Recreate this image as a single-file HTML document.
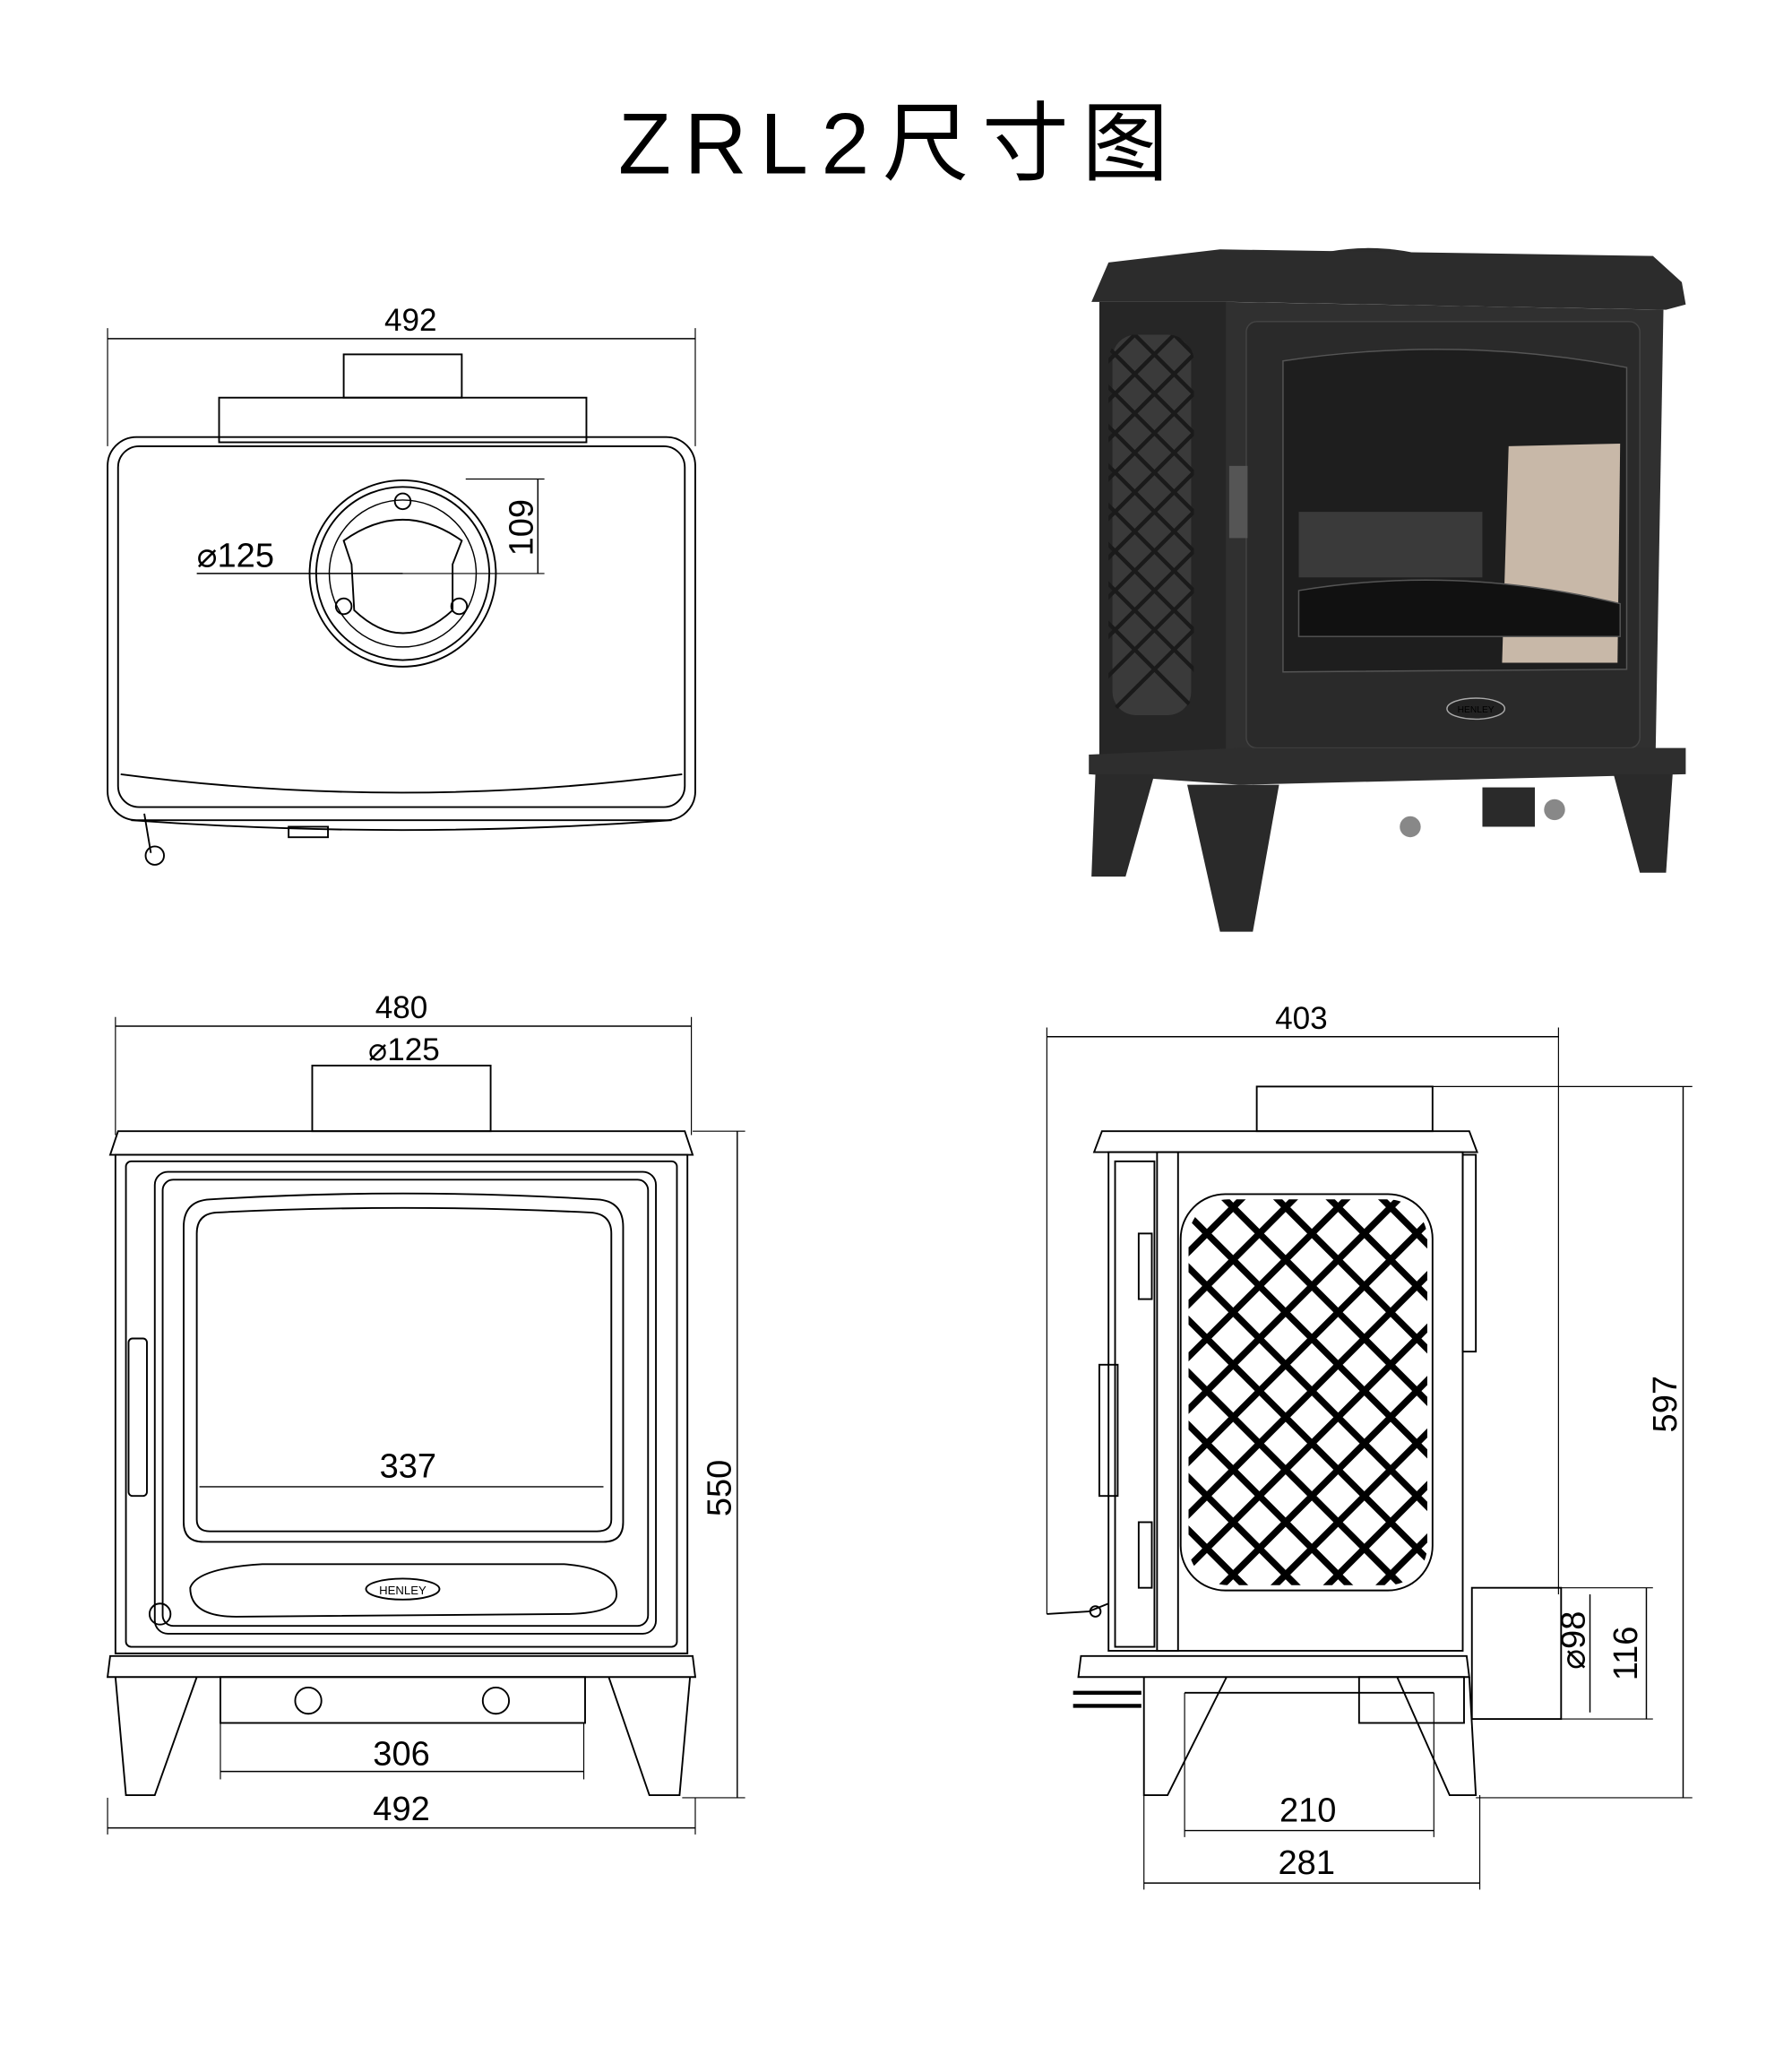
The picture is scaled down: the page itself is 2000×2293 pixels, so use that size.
<!DOCTYPE html>
<html><head><meta charset="utf-8"><style>
html,body{margin:0;padding:0;background:#fff;}
svg{display:block}
text{font-family:"Liberation Sans","Noto Sans CJK SC",sans-serif;fill:#000}
</style></head><body>
<svg width="2000" height="2293" viewBox="0 0 1366 1566" xmlns="http://www.w3.org/2000/svg">
<defs>
<marker id="a" viewBox="0 0 10 10" refX="10" refY="5" markerWidth="8" markerHeight="8" orient="auto-start-reverse"><path d="M0,2 L10,5 L0,8z" fill="#000"/></marker>
<clipPath id="lat"><rect x="906" y="914" width="182" height="294" rx="30"/></clipPath>
<clipPath id="lat2"><rect x="845" y="255" width="65" height="290" rx="20"/></clipPath>
<linearGradient id="g1" x1="0" x2="1"><stop offset="0" stop-color="#2a2a2a"/><stop offset="1" stop-color="#3c3c3c"/></linearGradient>
</defs>
<g fill="none" stroke="#000" stroke-width="1.3">
<!-- title -->
<text x="686" y="132" font-size="66" text-anchor="middle" stroke="none" letter-spacing="10">ZRL2尺寸图</text>

<!-- TOP VIEW -->
<line x1="82" y1="258" x2="530" y2="258" stroke-width="1"/>
<line x1="82" y1="250" x2="82" y2="340" stroke-width="0.8"/><line x1="530" y1="250" x2="530" y2="340" stroke-width="0.8"/>
<text x="313" y="252" font-size="24" text-anchor="middle" stroke="none">492</text>
<rect x="262" y="270" width="90" height="33"/>
<rect x="167" y="303" width="280" height="34"/>
<rect x="82" y="333" width="448" height="292" rx="22"/>
<rect x="90" y="340" width="432" height="275" rx="16"/>
<path d="M92 590 Q306 618 520 590"/>
<path d="M100 625 Q306 640 512 625"/>
<rect x="220" y="630" width="30" height="8"/>
<path d="M110 620 L115 650"/><circle cx="118" cy="652" r="7"/>
<circle cx="307" cy="437" r="71"/><circle cx="307" cy="437" r="66"/>
<circle cx="307" cy="437" r="56" stroke-width="1"/>
<path d="M262 412 Q307 380 352 412 L345 430 L345 465 Q307 500 270 465 L268 430z"/>
<circle cx="307" cy="382" r="6"/><circle cx="262" cy="462" r="6"/><circle cx="350" cy="462" r="6"/>
<line x1="150" y1="437" x2="307" y2="437" stroke-width="1"/>
<text x="150" y="432" font-size="26" stroke="none">⌀125</text>
<line x1="355" y1="365" x2="415" y2="365" stroke-width="0.8"/><line x1="307" y1="437" x2="415" y2="437" stroke-width="0.8"/>
<line x1="410" y1="365" x2="410" y2="437" stroke-width="1"/>
<text x="0" y="0" font-size="26" stroke="none" transform="translate(406 402) rotate(-90)" text-anchor="middle">109</text>

<!-- FRONT VIEW -->
<line x1="88" y1="782" x2="527" y2="782" stroke-width="1"/>
<line x1="88" y1="775" x2="88" y2="865" stroke-width="0.8"/><line x1="527" y1="775" x2="527" y2="865" stroke-width="0.8"/>
<text x="306" y="776" font-size="24" text-anchor="middle" stroke="none">480</text>
<line x1="240" y1="812" x2="372" y2="812" stroke-width="1"/>
<text x="308" y="808" font-size="24" text-anchor="middle" stroke="none">⌀125</text>
<rect x="238" y="812" width="136" height="50"/>
<path d="M84 880 L90 862 L522 862 L528 880z"/>
<rect x="88" y="880" width="436" height="380"/>
<rect x="96" y="885" width="420" height="370" rx="4"/>
<rect x="118" y="893" width="382" height="352" rx="10"/>
<rect x="124" y="899" width="370" height="340" rx="8"/>
<path d="M140 935 Q140 915 160 914 Q307 905 455 914 Q475 915 475 935 L475 1160 Q475 1175 460 1175 L155 1175 Q140 1175 140 1160z"/>
<path d="M150 940 Q150 925 165 924 Q307 917 450 924 Q466 925 466 940 L466 1158 Q466 1167 455 1167 L160 1167 Q150 1167 150 1158z"/>
<line x1="152" y1="1133" x2="460" y2="1133" stroke-width="1"/>
<text x="311" y="1126" font-size="26" text-anchor="middle" stroke="none">337</text>
<path d="M145 1210 Q150 1195 200 1192 L430 1192 Q470 1195 470 1215 Q470 1230 430 1230 L180 1232 Q145 1232 145 1210z"/>
<ellipse cx="307" cy="1211" rx="28" ry="8"/>
<text x="307" y="1215" font-size="9" text-anchor="middle" stroke="none" font-family="Liberation Serif">HENLEY</text>
<rect x="98" y="1020" width="14" height="120" rx="3"/>
<circle cx="122" cy="1230" r="8"/>
<path d="M82 1278 L84 1262 L528 1262 L530 1278z"/>
<path d="M88 1278 L96 1368 L118 1368 L150 1278"/>
<path d="M464 1278 L495 1368 L518 1368 L526 1278"/>
<rect x="168" y="1278" width="278" height="35"/>
<circle cx="235" cy="1296" r="10"/><circle cx="378" cy="1296" r="10"/>
<line x1="168" y1="1350" x2="445" y2="1350" stroke-width="1"/>
<line x1="168" y1="1313" x2="168" y2="1356" stroke-width="0.8"/><line x1="445" y1="1313" x2="445" y2="1356" stroke-width="0.8"/>
<text x="306" y="1345" font-size="26" text-anchor="middle" stroke="none">306</text>
<line x1="82" y1="1393" x2="530" y2="1393" stroke-width="1"/>
<line x1="82" y1="1370" x2="82" y2="1398" stroke-width="0.8"/><line x1="530" y1="1370" x2="530" y2="1398" stroke-width="0.8"/>
<text x="306" y="1387" font-size="26" text-anchor="middle" stroke="none">492</text>
<line x1="562" y1="862" x2="562" y2="1370" stroke-width="1"/>
<line x1="528" y1="862" x2="568" y2="862" stroke-width="0.8"/><line x1="520" y1="1370" x2="568" y2="1370" stroke-width="0.8"/>
<text font-size="26" stroke="none" transform="translate(557 1134) rotate(-90)" text-anchor="middle">550</text>

<!-- SIDE VIEW -->
<line x1="798" y1="790" x2="1188" y2="790" stroke-width="1"/>
<line x1="798" y1="783" x2="798" y2="1230" stroke-width="0.8"/><line x1="1188" y1="783" x2="1188" y2="1215" stroke-width="0.8"/>
<text x="992" y="784" font-size="24" text-anchor="middle" stroke="none">403</text>
<rect x="958" y="828" width="134" height="34"/>
<line x1="1092" y1="828" x2="1290" y2="828" stroke-width="0.8"/>
<path d="M834 878 L840 862 L1120 862 L1126 878z"/>
<rect x="845" y="878" width="270" height="380"/>
<rect x="882" y="878" width="16" height="380"/>
<rect x="850" y="885" width="30" height="370"/>
<rect x="1115" y="880" width="10" height="150"/>
<rect x="838" y="1040" width="14" height="100"/>
<rect x="868" y="940" width="10" height="50"/><rect x="868" y="1160" width="10" height="50"/>
<rect x="900" y="910" width="192" height="302" rx="34"/>
<g clip-path="url(#lat)" stroke-width="5">
<path d="M860 880 L1140 1160 M860 920 L1140 1200 M860 960 L1140 1240 M860 1000 L1140 1280 M860 1040 L1140 1320 M860 1080 L1140 1360 M860 1120 L1140 1400 M860 1160 L1140 1440 M860 840 L1140 1120 M860 800 L1140 1080 M860 760 L1140 1040 M860 720 L1140 1000 M860 680 L1140 960"/>
<path d="M1140 880 L860 1160 M1140 920 L860 1200 M1140 960 L860 1240 M1140 1000 L860 1280 M1140 1040 L860 1320 M1140 1080 L860 1360 M1140 1120 L860 1400 M1140 1160 L860 1440 M1140 840 L860 1120 M1140 800 L860 1080 M1140 760 L860 1040 M1140 720 L860 1000 M1140 680 L860 960"/>
</g>
<path d="M798 1230 L830 1228 L845 1222"/><circle cx="835" cy="1228" r="4"/>
<path d="M822 1278 L824 1262 L1118 1262 L1120 1278z"/>
<path d="M872 1278 L872 1368 L890 1368 L935 1278"/>
<path d="M1065 1278 L1105 1368 L1125 1368 L1120 1278"/>
<line x1="903" y1="1290" x2="1093" y2="1290"/>
<rect x="1036" y="1278" width="80" height="35"/>
<path d="M818 1290 L870 1290 M818 1300 L870 1300" stroke-width="3"/>
<rect x="1122" y="1210" width="68" height="100"/>
<line x1="1190" y1="1210" x2="1260" y2="1210" stroke-width="0.8"/><line x1="1190" y1="1310" x2="1260" y2="1310" stroke-width="0.8"/>
<line x1="1212" y1="1215" x2="1212" y2="1305" stroke-width="1"/>
<line x1="1255" y1="1210" x2="1255" y2="1310" stroke-width="1"/>
<text font-size="26" stroke="none" transform="translate(1208 1250) rotate(-90)" text-anchor="middle">⌀98</text>
<text font-size="26" stroke="none" transform="translate(1248 1260) rotate(-90)" text-anchor="middle">116</text>
<line x1="1283" y1="828" x2="1283" y2="1370" stroke-width="1"/>
<line x1="1125" y1="1370" x2="1290" y2="1370" stroke-width="0.8"/>
<text font-size="26" stroke="none" transform="translate(1278 1070) rotate(-90)" text-anchor="middle">597</text>
<line x1="903" y1="1395" x2="1093" y2="1395" stroke-width="1"/>
<line x1="903" y1="1290" x2="903" y2="1400" stroke-width="0.8"/><line x1="1093" y1="1290" x2="1093" y2="1400" stroke-width="0.8"/>
<text x="997" y="1388" font-size="26" text-anchor="middle" stroke="none">210</text>
<line x1="872" y1="1435" x2="1128" y2="1435" stroke-width="1"/>
<line x1="872" y1="1368" x2="872" y2="1440" stroke-width="0.8"/><line x1="1128" y1="1368" x2="1128" y2="1440" stroke-width="0.8"/>
<text x="996" y="1428" font-size="26" text-anchor="middle" stroke="none">281</text>
</g>

<!-- PHOTO -->
<g>
<path d="M988 198 Q1043 180 1098 198 L1098 205 L988 205z" fill="#2b2b2b"/>
<path d="M845 200 L930 190 L1260 195 L1282 215 L1285 232 L1270 236 L940 230 L832 230z" fill="#2c2c2c"/>
<path d="M838 230 L935 230 L935 580 L838 575z" fill="#262626"/>
<path d="M935 230 L1268 236 L1262 575 L935 582z" fill="#303030"/>
<rect x="848" y="255" width="60" height="290" rx="18" fill="#3a3a3a"/>
<g clip-path="url(#lat2)" stroke="#1a1a1a" stroke-width="3">
<path d="M820 240 L940 360 M820 270 L940 390 M820 300 L940 420 M820 330 L940 450 M820 360 L940 480 M820 390 L940 510 M820 420 L940 540 M820 450 L940 570 M820 210 L940 330 M820 180 L940 300"/>
<path d="M940 240 L820 360 M940 270 L820 390 M940 300 L820 420 M940 330 L820 450 M940 360 L820 480 M940 390 L820 510 M940 420 L820 540 M940 450 L820 570 M940 210 L820 330 M940 180 L820 300"/>
</g>
<rect x="950" y="245" width="300" height="325" rx="8" fill="#2a2a2a" stroke="#444"/>
<path d="M978 275 Q1110 255 1240 280 L1240 510 L978 512z" fill="#1e1e1e" stroke="#555"/>
<path d="M1150 340 L1235 338 L1233 505 L1145 505z" fill="#c8b8a8"/>
<path d="M990 390 L1130 390 L1130 440 L990 440z" fill="#3a3a3a"/>
<path d="M990 450 Q1110 430 1235 460 L1235 485 L990 485z" fill="#111" stroke="#555"/>
<ellipse cx="1125" cy="540" rx="22" ry="8" fill="#222" stroke="#aaa"/>
<text x="1125" y="543" font-size="7" fill="#ddd" text-anchor="middle" font-family="Liberation Serif">HENLEY</text>
<rect x="937" y="355" width="14" height="55" fill="#555"/>
<path d="M830 575 L945 570 L1285 570 L1285 590 L945 598 L830 590z" fill="#2e2e2e"/>
<path d="M835 590 L880 590 L858 668 L832 668z" fill="#2a2a2a"/>
<path d="M905 598 L975 598 L955 710 L930 710z" fill="#2a2a2a"/>
<path d="M1230 590 L1275 590 L1270 665 L1250 665z" fill="#2a2a2a"/>
<rect x="1130" y="600" width="40" height="30" fill="#2a2a2a"/>
<circle cx="1075" cy="630" r="8" fill="#888"/><circle cx="1185" cy="617" r="8" fill="#888"/>
</g>
</svg>
</body></html>
